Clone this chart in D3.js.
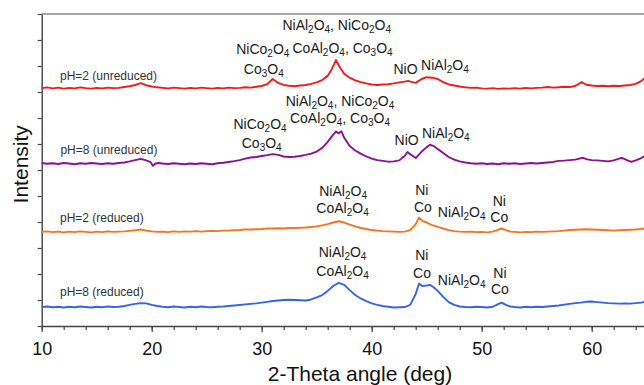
<!DOCTYPE html>
<html>
<head>
<meta charset="utf-8">
<script src="https://cdn.jsdelivr.net/npm/d3@7"></script>
<style>
  body { margin: 0; background: #fff; }
  svg { display: block; font-family: "Liberation Sans", Arial, sans-serif; }
</style>
</head>
<body>
<figure id="xrd" style="margin:0"></figure>
<script>
// x ticks (deg) and sample names
const xTicks = [10, 20, 30, 40, 50, 60];
const sampleNames = ["pH=2 (unreduced)", "pH=8 (unreduced)", "pH=2 (reduced)", "pH=8 (reduced)"];

// [2-theta, intensity (a.u., offset stacked)]
const ph2Unreduced = [[10,915],[10.5,918],[11,914],[11.5,917],[12,913],[12.5,916],[13,914],[13.5,918],[14,915],[14.5,913],[15,916],[15.5,914],[16,917],[16.5,915],[17,916],[17.5,919],[18,922],[18.5,927],[19,934],[19.5,926],[20,921],[20.5,918],[21,916],[21.5,914],[22,917],[22.5,915],[23,913],[23.5,916],[24,914],[24.5,917],[25,915],[25.5,913],[26,916],[26.5,914],[27,917],[27.5,915],[28,916],[28.5,918],[29,917],[29.5,920],[30,923],[30.5,930],[31,950],[31.5,935],[32,927],[32.5,924],[33,922],[33.5,925],[34,927],[34.5,931],[35,937],[35.5,946],[36,962],[36.4,990],[36.75,1023],[37.1,995],[37.5,970],[38,955],[38.5,945],[39,938],[39.5,933],[40,929],[40.5,927],[41,929],[41.5,930],[42,933],[42.5,937],[43,940],[43.3,943],[43.6,939],[44,935],[44.5,949],[45,957],[45.5,955],[46,950],[46.5,938],[47,929],[47.5,925],[48,921],[48.5,918],[49,916],[49.5,917],[50,914],[50.5,913],[51,915],[51.5,912],[52,914],[52.5,913],[53,915],[53.5,913],[54,916],[54.5,914],[55,916],[55.5,917],[56,919],[56.5,917],[57,918],[57.5,920],[58,919],[58.5,923],[59.1,938],[59.5,928],[60,925],[60.5,923],[61,924],[61.5,922],[62,924],[62.5,923],[63,925],[63.5,927],[64,931],[64.5,942],[65,962]];
const ph8Unreduced = [[10,627],[10.5,624],[11,626],[11.5,623],[12,627],[12.5,625],[13,622],[13.5,626],[14,624],[14.5,627],[15,625],[15.5,623],[16,626],[16.5,624],[17,627],[17.5,629],[18,633],[18.5,638],[19,643],[19.5,637],[19.9,630],[20.1,616],[20.3,624],[20.6,627],[21,625],[21.5,623],[22,626],[22.5,624],[23,622],[23.5,625],[24,623],[24.5,626],[25,624],[25.5,622],[26,626],[26.5,628],[27,631],[27.5,634],[28,638],[28.5,644],[29,648],[29.5,650],[30,654],[30.5,657],[31,661],[31.5,658],[32,652],[32.5,650],[33,651],[33.5,654],[34,658],[34.5,663],[35,671],[35.5,685],[36,708],[36.5,736],[36.75,748],[37,741],[37.25,749],[37.5,724],[38,692],[38.5,675],[39,663],[39.5,652],[40,644],[40.5,638],[41,635],[41.5,632],[42,633],[42.5,637],[43,654],[43.25,669],[43.5,661],[44,646],[44.5,669],[45,688],[45.3,697],[45.6,693],[46,681],[46.5,665],[47,650],[47.5,640],[48,633],[48.5,629],[49,626],[49.5,624],[50,626],[50.5,623],[51,625],[51.5,622],[52,626],[52.5,624],[53,626],[53.5,623],[54,625],[54.5,627],[55,625],[55.5,627],[56,629],[56.5,631],[57,635],[57.5,636],[58,638],[58.5,640],[59.2,647],[59.6,641],[60,638],[60.5,637],[61,635],[61.5,633],[62,637],[62.5,644],[62.8,646],[63.2,638],[63.6,631],[64,637],[64.5,646],[65,658]];
const ph2Reduced = [[10,362],[10.5,364],[11,361],[11.5,363],[12,360],[12.5,363],[13,361],[13.5,364],[14,362],[14.5,360],[15,363],[15.5,361],[16,364],[16.5,362],[17,363],[17.5,364],[18,366],[18.5,368],[19,371],[19.5,367],[20,364],[20.5,362],[21,363],[21.5,361],[22,364],[22.5,362],[23,364],[23.5,363],[24,365],[24.5,363],[25,365],[25.5,366],[26,365],[26.5,367],[27,367],[27.5,368],[28,369],[28.5,371],[29,371],[29.5,372],[30,373],[30.5,375],[31,375],[31.5,376],[32,375],[32.5,377],[33,377],[33.5,378],[34,379],[34.5,381],[35,383],[35.5,387],[36,392],[36.5,398],[37,403],[37.5,398],[38,390],[38.5,383],[39,377],[39.5,373],[40,369],[40.5,367],[41,365],[41.5,364],[42,363],[42.5,362],[43,363],[43.5,369],[44,392],[44.3,417],[44.6,404],[45,398],[45.5,388],[46,381],[46.5,375],[47,369],[47.5,365],[48,363],[48.5,362],[49,363],[49.5,361],[50,362],[50.5,360],[51,363],[51.4,369],[51.8,375],[52.2,369],[52.6,363],[53,362],[53.5,360],[54,362],[54.5,361],[55,363],[55.5,362],[56,363],[56.5,364],[57,365],[57.5,367],[58,369],[58.5,370],[59,371],[59.5,372],[60,371],[60.5,370],[61,369],[61.5,368],[62,367],[62.5,368],[63,369],[63.5,370],[64,371],[64.5,373],[65,377]];
const ph8Reduced = [[10,73],[10.5,75],[11,72],[11.5,74],[12,71],[12.5,74],[13,72],[13.5,75],[14,73],[14.5,71],[15,74],[15.5,72],[16,75],[16.5,73],[17,74],[17.5,77],[18,81],[18.5,85],[19,88],[19.5,87],[20,81],[20.5,77],[21,74],[21.5,72],[22,75],[22.5,73],[23,71],[23.5,74],[24,72],[24.5,75],[25,73],[25.5,72],[26,74],[26.5,75],[27,77],[27.5,79],[28,81],[28.5,83],[29,85],[29.5,87],[30,90],[30.5,93],[31,96],[31.5,98],[32,100],[32.5,101],[33,100],[33.5,99],[34,98],[34.5,102],[35,110],[35.5,119],[36,135],[36.5,154],[37,166],[37.5,158],[38,138],[38.5,119],[39,106],[39.5,96],[40,87],[40.5,81],[41,77],[41.5,74],[42,71],[42.5,72],[43,73],[43.5,81],[44,123],[44.3,163],[44.6,154],[45,156],[45.3,158],[45.6,150],[46,135],[46.5,112],[47,92],[47.5,81],[48,75],[48.5,73],[49,72],[49.5,74],[50,73],[50.5,71],[51,74],[51.4,82],[51.8,90],[52.2,81],[52.6,75],[53,73],[53.5,71],[54,74],[54.5,72],[55,74],[55.5,73],[56,75],[56.5,77],[57,79],[57.5,82],[58,85],[58.5,88],[59,90],[59.5,93],[60,94],[60.5,92],[61,90],[61.5,88],[62,87],[62.5,86],[63,87],[63.5,86],[64,88],[64.5,90],[65,94]];

// phase labels: [2-theta, intensity, text]
const phaseLabels = [
  [36.82,1158,"NiAl2O4, NiCo2O4"],[30.1,1064,"NiCo2O4"],[37.35,1070,"CoAl2O4, Co3O4"],
  [30.19,988,"Co3O4"],[43.07,987,"NiO"],[46.66,1004,"NiAl2O4"],
  [37.12,866,"NiAl2O4, NiCo2O4"],[29.85,776,"NiCo2O4"],[37.12,800,"CoAl2O4, Co3O4"],
  [30.0,705,"Co3O4"],[43.18,715,"NiO"],[46.74,741,"NiAl2O4"],
  [37.4,519,"NiAl2O4"],[37.35,453,"CoAl2O4"],[44.55,522,"Ni"],[44.66,458,"Co"],
  [48.18,438,"NiAl2O4"],[51.6,482,"Ni"],[51.6,418,"Co"],
  [37.35,283,"NiAl2O4"],[37.35,212,"CoAl2O4"],[44.55,271,"Ni"],[44.57,203,"Co"],
  [48.18,177,"NiAl2O4"],[51.66,204,"Ni"],[51.66,142,"Co"]
];
// where each sample name sits: [2-theta, intensity]
const namePos = [[11.66,963],[11.7,677],[11.66,415],[11.66,131]];

const series = [ph2Unreduced, ph8Unreduced, ph2Reduced, ph8Reduced];
const colors = ["#f01c1c", "#8a128e", "#f7741f", "#3563ea"];

const width = 644, height = 385;
const svg = d3.select("#xrd").append("svg").attr("width", width).attr("height", height);

const x = d3.scaleLinear().domain([10, 70]).range([41.7, 701.7]);
const y = d3.scaleLinear().domain([0, 1200]).range([326, 14]);

// top frame line
svg.append("line").attr("x1", x(10)).attr("x2", width).attr("y1", y(1200)).attr("y2", y(1200))
  .attr("stroke", "#555").attr("stroke-width", 1.2);

// minor x ticks
svg.append("g").attr("transform", "translate(0," + y(0) + ")")
  .call(d3.axisBottom(x).tickValues(d3.range(10, 71, 2)).tickSize(4).tickFormat(""))
  .call(g => g.select(".domain").remove())
  .selectAll("line").attr("stroke", "#444").attr("stroke-width", 1.2);

// major x axis
const xAxis = svg.append("g").attr("transform", "translate(0," + y(0) + ")")
  .call(d3.axisBottom(x).tickValues(xTicks).tickSize(6).tickSizeOuter(0).tickPadding(10).tickFormat(d3.format("d")));
xAxis.select(".domain").attr("stroke", "#444").attr("stroke-width", 1.4);
xAxis.selectAll("line").attr("stroke", "#444").attr("stroke-width", 1.2);
xAxis.selectAll("text").attr("font-size", 18).attr("fill", "#111")
  .attr("font-family", "Liberation Sans, Arial, sans-serif");

// y axis without labels
const yAxis = svg.append("g").attr("transform", "translate(" + x(10) + ",0)")
  .call(d3.axisLeft(y).tickValues(d3.range(0, 1201, 100)).tickSize(4).tickSizeOuter(0).tickFormat(""));
yAxis.select(".domain").attr("stroke", "#444").attr("stroke-width", 1.4);
yAxis.selectAll("line").attr("stroke", "#444").attr("stroke-width", 1.2);

// patterns
const line = d3.line().x(d => x(d[0])).y(d => y(d[1]));
series.forEach((s, i) => {
  svg.append("path").datum(s).attr("d", line)
    .attr("fill", "none").attr("stroke", colors[i]).attr("stroke-width", 1.9)
    .attr("stroke-linejoin", "round");
});

// sample names
svg.selectAll(".name").data(sampleNames).enter().append("text")
  .attr("class", "name")
  .attr("x", (d, i) => x(namePos[i][0]))
  .attr("y", (d, i) => y(namePos[i][1]))
  .attr("dy", "0.35em")
  .attr("font-size", 12).attr("fill", "#333")
  .text(d => d);

// phase labels with subscripts
phaseLabels.forEach(p => {
  const t = svg.append("text")
    .attr("x", x(p[0])).attr("y", y(p[1])).attr("dy", "0.35em")
    .attr("text-anchor", "middle").attr("font-size", 14).attr("fill", "#1a1a1a");
  const parts = p[2].match(/\d+|\D+/g);
  let sub = false;
  parts.forEach(part => {
    const isNum = /\d/.test(part);
    const ts = t.append("tspan").text(part);
    if (isNum) { ts.attr("font-size", 10).attr("dy", 3); sub = true; }
    else if (sub) { ts.attr("dy", -3); sub = false; }
  });
});

// axis titles
svg.append("text").attr("x", 360).attr("y", 381).attr("text-anchor", "middle")
  .attr("font-size", 21).attr("fill", "#111").text("2-Theta angle (deg)");
svg.append("text").attr("transform", "translate(28," + y(622) + ") rotate(-90)")
  .attr("text-anchor", "middle").attr("font-size", 21).attr("fill", "#111").text("Intensity");
</script>
</body>
</html>
